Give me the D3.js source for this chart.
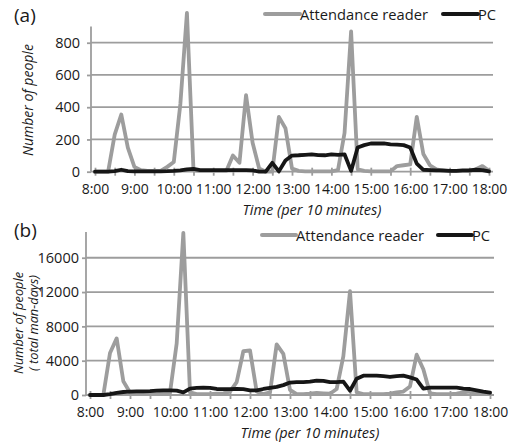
<!DOCTYPE html>
<html>
<head>
<meta charset="utf-8">
<script src="https://cdn.jsdelivr.net/npm/d3@7"></script>
<style>
  body { margin: 0; background: #fff; }
  text { font-family: "Open Sans", sans-serif; fill: #1a1a1a; }
</style>
</head>
<body>
<div id="chart"></div>
<script>
// categories: one per 10 minutes
var times = [
  "8:00","8:10","8:20","8:30","8:40","8:50","9:00","9:10","9:20","9:30","9:40","9:50",
  "10:00","10:10","10:20","10:30","10:40","10:50","11:00","11:10","11:20","11:30","11:40","11:50",
  "12:00","12:10","12:20","12:30","12:40","12:50","13:00","13:10","13:20","13:30","13:40","13:50",
  "14:00","14:10","14:20","14:30","14:40","14:50","15:00","15:10","15:20","15:30","15:40","15:50",
  "16:00","16:10","16:20","16:30","16:40","16:50","17:00","17:10","17:20","17:30","17:40","17:50",
  "18:00"
];
var hourLabels = ["8:00","9:00","10:00","11:00","12:00","13:00","14:00","15:00","16:00","17:00","18:00"];
var seriesNames = ["Attendance reader", "PC"];

// (a) number of people
var attendanceA = [
  0,0,0,230,355,150,30,10,5,5,
  5,30,60,420,985,10,5,5,5,5,
  5,100,55,475,180,20,0,0,340,270,
  20,5,2,2,2,2,2,10,240,870,
  15,5,2,2,2,2,35,40,45,340,
  110,40,15,5,5,5,5,5,15,35,
  5
];
var pcA = [
  0,0,0,3,12,3,2,2,2,2,
  2,3,5,8,15,18,10,10,10,10,
  10,10,10,10,8,0,0,55,2,70,
  100,102,105,108,103,102,108,105,108,5,
  150,165,175,175,175,170,168,165,150,50,
  12,10,8,8,5,5,8,8,12,10,
  2
];
var yTicksA = [0, 200, 400, 600, 800];

// (b) total man-days
var attendanceB = [
  0,0,0,4900,6600,1600,300,100,100,100,
  100,150,250,6000,18900,300,100,100,100,150,
  200,400,1500,5100,5200,400,100,300,5900,4800,
  600,100,100,150,250,200,150,700,4500,12100,
  300,100,100,100,100,150,300,400,1000,4700,
  3000,200,100,100,100,150,300,400,200,150,
  100
];
var pcB = [
  0,0,0,100,250,350,400,420,430,450,
  500,550,550,500,300,750,820,850,830,700,
  680,680,700,680,550,550,700,820,950,1150,
  1450,1500,1500,1550,1680,1650,1500,1500,1550,500,
  1900,2250,2250,2250,2200,2100,2200,2250,2050,1800,
  750,850,850,850,850,850,750,700,550,400,
  270
];
var yTicksB = [0, 4000, 8000, 12000, 16000];

var gray = "#9d9d9d";
var black = "#161616";

var svg = d3.select("#chart").append("svg").attr("width", 522).attr("height", 443);

drawPanel({
  label: "(a)", labelY: 22,
  series: [attendanceA, pcA], yTicks: yTicksA, yMax: 900,
  xRange: [95, 489], axisX: 91, gridRight: 493,
  yBottom: 171.7, yTop: 26.6, yLabelRight: 80,
  legendY: 14, legendX: [265, 443], legendLen: 35,
  titleX: 312, titleY: 215,
  yTitles: ["Number of people"], yTitleX: [33], yTitleY: 100, yTitleSize: 14
});

drawPanel({
  label: "(b)", labelY: 237,
  series: [attendanceB, pcB], yTicks: yTicksB, yMax: 19000,
  xRange: [90, 490], axisX: 86, gridRight: 494,
  yBottom: 395, yTop: 232, yLabelRight: 79,
  legendY: 235, legendX: [262, 438], legendLen: 34,
  titleX: 310, titleY: 438,
  yTitles: ["Number of people", "( total man-days)"], yTitleX: [23, 38], yTitleY: 323, yTitleSize: 12.8
});

function drawPanel(p) {
  var x = d3.scalePoint().domain(times).range(p.xRange);
  var y = d3.scaleLinear().domain([0, p.yMax]).range([p.yBottom, p.yTop]);
  var g = svg.append("g");

  // gridlines (the 0 line doubles as the category axis)
  g.selectAll("line.grid")
    .data(p.yTicks)
    .enter()
    .append("line")
    .attr("class", "grid")
    .attr("x1", p.axisX).attr("x2", p.gridRight)
    .attr("y1", d => y(d)).attr("y2", d => y(d))
    .attr("stroke", gray).attr("stroke-width", 1.8);

  // value axis
  var yAxis = g.append("g")
    .attr("transform", `translate(${p.axisX},0)`)
    .call(d3.axisLeft(y).tickValues(p.yTicks).tickFormat(d3.format("d"))
      .tickSize(4).tickPadding(p.axisX - 4 - p.yLabelRight));
  yAxis.select(".domain").remove();
  yAxis.append("line")
    .attr("y1", y(0)).attr("y2", y(p.yMax))
    .attr("stroke", gray).attr("stroke-width", 1.8);
  yAxis.selectAll(".tick line").attr("stroke", gray).attr("stroke-width", 1.8);
  yAxis.selectAll(".tick text").style("font-size", "14.5px").attr("fill", "#1a1a1a");

  // category axis, tick every 30 minutes, label every hour
  var xAxis = g.append("g")
    .attr("transform", `translate(0,${y(0)})`)
    .call(d3.axisBottom(x)
      .tickValues(times.filter((d, i) => i % 3 === 0))
      .tickSize(4).tickPadding(8)
      .tickFormat(d => hourLabels.includes(d) ? d : ""));
  xAxis.select(".domain").remove();
  xAxis.selectAll(".tick line").attr("y1", -4).attr("y2", 4)
    .attr("stroke", gray).attr("stroke-width", 1.8);
  xAxis.selectAll(".tick text").style("font-size", "14px").attr("fill", "#1a1a1a");

  // series
  var line = d3.line().x((d, i) => x(times[i])).y(d => y(d));
  var colors = [gray, black];
  p.series.forEach((values, k) => {
    g.append("path")
      .datum(values)
      .attr("d", line)
      .attr("fill", "none")
      .attr("stroke", colors[k])
      .attr("stroke-width", 3.8)
      .attr("stroke-linejoin", "round")
      .attr("stroke-linecap", "round");
  });

  // legend
  seriesNames.forEach((name, k) => {
    var lx = p.legendX[k];
    g.append("line")
      .attr("x1", lx).attr("x2", lx + p.legendLen)
      .attr("y1", p.legendY).attr("y2", p.legendY)
      .attr("stroke", colors[k]).attr("stroke-width", 4)
      .attr("stroke-linecap", "round");
    g.append("text")
      .attr("x", lx + p.legendLen).attr("y", p.legendY + 5.5)
      .style("font-size", "14.7px")
      .text(name);
  });

  // titles
  g.append("text")
    .attr("x", 14).attr("y", p.labelY)
    .style("font-size", "19px")
    .text(p.label);
  g.append("text")
    .attr("x", p.titleX).attr("y", p.titleY)
    .attr("text-anchor", "middle")
    .style("font-size", "14.5px").style("font-style", "italic")
    .text("Time (per 10 minutes)");
  p.yTitles.forEach((t, k) => {
    g.append("text")
      .attr("transform", `translate(${p.yTitleX[k]},${p.yTitleY}) rotate(-90)`)
      .attr("text-anchor", "middle")
      .style("font-size", p.yTitleSize + "px").style("font-style", "italic")
      .text(t);
  });
}
</script>
</body>
</html>
